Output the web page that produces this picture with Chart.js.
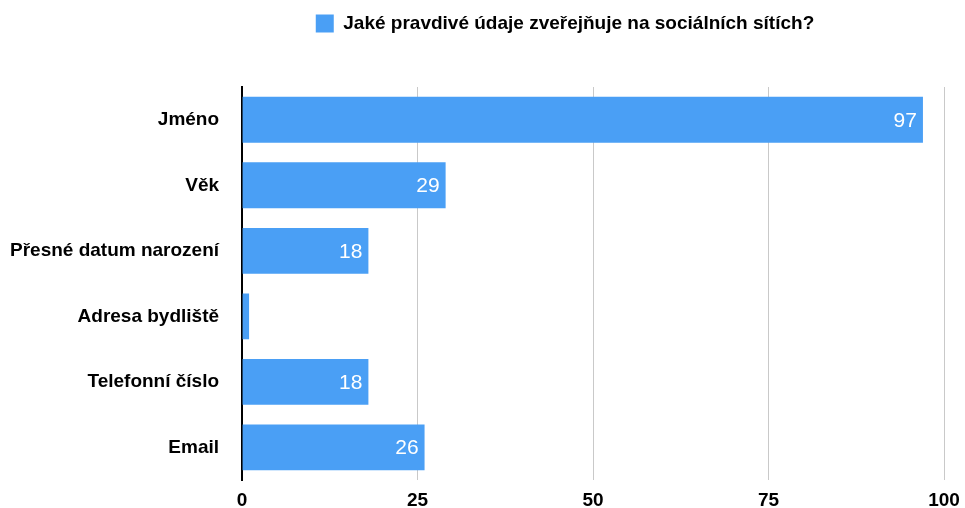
<!DOCTYPE html>
<html>
<head>
<meta charset="utf-8">
<script src="https://cdn.jsdelivr.net/npm/chart.js@4/dist/chart.umd.min.js"></script>
<style>
  html, body { margin: 0; padding: 0; background: #fff; overflow: hidden; }
  #wrap { width: 965px; height: 521px; }
</style>
</head>
<body>
<div id="wrap"><canvas id="chart"></canvas></div>
<script>
const categories = ['Jméno', 'Věk', 'Přesné datum narození', 'Adresa bydliště', 'Telefonní číslo', 'Email']
const answers = [97, 29, 18, 1, 18, 26]
const seriesLabel = 'Jaké pravdivé údaje zveřejňuje na sociálních sítích?'
const xTicks = [0, 25, 50, 75, 100]

const FONT = '"Liberation Sans", Arial, sans-serif'

// White value labels inside the right end of each bar
const barValues = {
  id: 'barValues',
  afterDatasetsDraw(chart) {
    const ctx = chart.ctx
    const meta = chart.getDatasetMeta(0)
    ctx.save()
    ctx.font = '21px ' + FONT
    ctx.fillStyle = '#fff'
    ctx.textAlign = 'right'
    ctx.textBaseline = 'middle'
    meta.data.forEach((bar, i) => {
      const v = chart.data.datasets[0].data[i]
      if (v < 5) return // too short to hold a label
      ctx.fillText(String(v), bar.x - 6, bar.y + 1)
    })
    ctx.restore()
  },
}

// Extra space under the legend, and push the legend a bit to the right
const legendPlacement = {
  id: 'legendPlacement',
  beforeInit(chart) {
    const fit = chart.legend.fit
    chart.legend.fit = function () {
      fit.bind(chart.legend)()
      this.height += 44
    }
  },
  afterLayout(chart) {
    const dx = 89
    chart.legend.left += dx
    chart.legend.right += dx
  },
}

new Chart(document.getElementById('chart'), {
  type: 'bar',
  data: {
    labels: categories,
    datasets: [{
      label: seriesLabel,
      data: answers,
      backgroundColor: '#4a9ff5',
      borderWidth: 0,
      categoryPercentage: 0.7,
      barPercentage: 1,
    }],
  },
  options: {
    indexAxis: 'y',
    responsive: true,
    maintainAspectRatio: false,
    animation: false,
    layout: { padding: { top: 4, right: 0, left: -13, bottom: 0 } },
    plugins: {
      legend: {
        position: 'top',
        labels: {
          boxWidth: 18,
          boxHeight: 18,
          color: '#000',
          font: { family: FONT, size: 19, weight: 'bold' },
          padding: 10,
        },
      },
      tooltip: { enabled: false },
    },
    scales: {
      x: {
        min: 0,
        max: 100,
        afterBuildTicks(scale) {
          scale.ticks = xTicks.map(v => ({ value: v }))
        },
        afterFit(scale) {
          // fixed room on the right; "100" may overhang a little
          scale.paddingRight = 21
        },
        grid: {
          color: ctx => (ctx.index === 0 ? 'rgba(0,0,0,0)' : '#c9c9c9'),
          lineWidth: 1,
          drawTicks: false,
        },
        border: { display: false },
        ticks: {
          color: '#000',
          font: { family: FONT, size: 19, weight: 'bold' },
          padding: 9,
        },
      },
      y: {
        grid: { display: false, drawTicks: false },
        border: { display: true, color: '#000', width: 2 },
        ticks: {
          color: '#000',
          font: { family: FONT, size: 19, weight: 'bold' },
          padding: 23,
        },
      },
    },
  },
  plugins: [barValues, legendPlacement],
})
</script>
</body>
</html>
